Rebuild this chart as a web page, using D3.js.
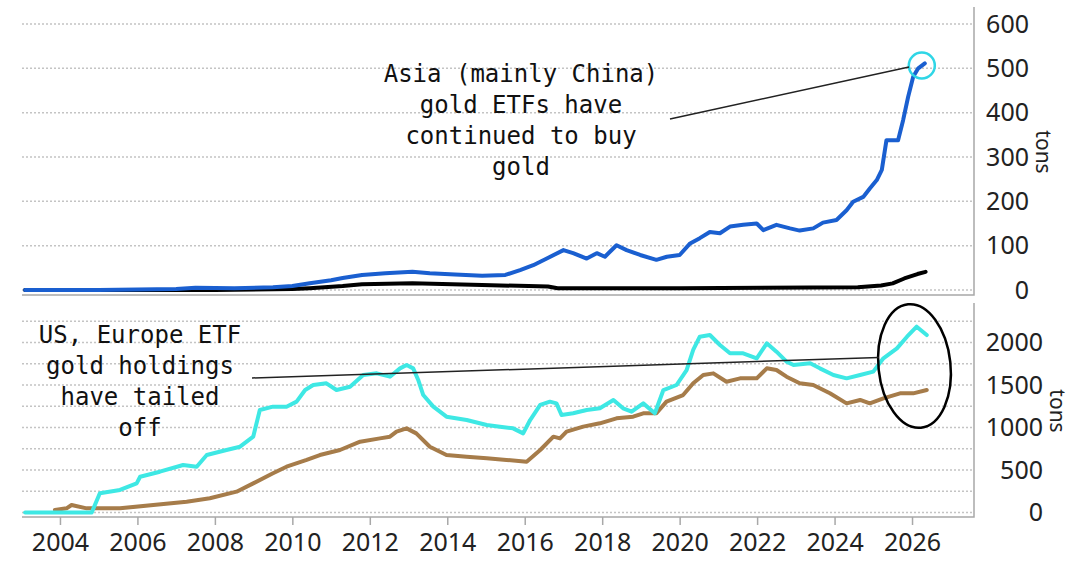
<!DOCTYPE html>
<html><head><meta charset="utf-8">
<script src="https://cdn.jsdelivr.net/npm/d3@7"></script>
<style>
html,body{margin:0;padding:0;background:#fff;}
svg{display:block;}
</style></head>
<body>
<svg id="chart" width="1073" height="563"></svg>
<script>
// ---- data (decimal years, tons) ----
const xTickYears = [2004, 2006, 2008, 2010, 2012, 2014, 2016, 2018, 2020, 2022, 2024, 2026];
const topTicks = [0, 100, 200, 300, 400, 500, 600];
const bottomTicks = [0, 500, 1000, 1500, 2000];
const bottomGrid = [0, 250, 500, 750, 1000, 1250, 1500, 1750, 2000, 2250];

const asiaYears = [2003.1, 2005.0, 2007.0, 2007.5, 2008.5, 2009.5, 2010.0, 2010.45, 2011.0, 2011.3, 2011.8, 2012.4, 2013.1, 2013.55, 2014.2, 2014.9, 2015.5, 2015.88, 2016.22, 2016.57, 2017.0, 2017.25, 2017.6, 2017.86, 2018.07, 2018.37, 2018.63, 2018.98, 2019.4, 2019.67, 2020.0, 2020.27, 2020.52, 2020.78, 2021.04, 2021.3, 2021.64, 2021.99, 2022.16, 2022.5, 2022.85, 2023.1, 2023.45, 2023.7, 2024.05, 2024.31, 2024.48, 2024.74, 2024.91, 2025.09, 2025.22, 2025.34, 2025.64, 2025.77, 2025.9, 2026.03, 2026.16, 2026.33];
const asiaValues = [0, 0, 2, 5, 4, 6, 9, 15, 22, 27, 34, 38, 41, 38, 35, 32, 34, 45, 56, 71, 90, 83, 71, 83, 75, 101, 90, 79, 68, 75, 79, 105, 117, 131, 128, 143, 147, 150, 135, 147, 139, 134, 139, 152, 158, 180, 199, 210, 229, 248, 271, 338, 338, 383, 436, 481, 500, 511];

const otherYears = [2003.1, 2008.0, 2010.0, 2010.45, 2011.3, 2011.8, 2013.1, 2014.9, 2016.1, 2016.6, 2016.85, 2020.0, 2024.6, 2025.2, 2025.5, 2025.8, 2026.14, 2026.35];
const otherValues = [0, 0, 2, 4, 9, 13, 15, 11, 9, 8, 4, 4, 6, 10, 15, 26, 36, 41];

const usYears = [2003.1, 2004.82, 2005.03, 2005.55, 2005.98, 2006.07, 2006.58, 2007.18, 2007.53, 2007.79, 2008.3, 2008.65, 2008.99, 2009.16, 2009.5, 2009.85, 2010.11, 2010.33, 2010.54, 2010.88, 2011.14, 2011.49, 2011.83, 2012.18, 2012.52, 2012.78, 2012.95, 2013.12, 2013.25, 2013.38, 2013.64, 2013.98, 2014.5, 2015.02, 2015.36, 2015.7, 2015.96, 2016.14, 2016.4, 2016.65, 2016.82, 2016.95, 2017.25, 2017.6, 2017.94, 2018.29, 2018.54, 2018.76, 2019.06, 2019.36, 2019.58, 2019.92, 2020.18, 2020.35, 2020.52, 2020.78, 2021.04, 2021.3, 2021.64, 2021.99, 2022.25, 2022.5, 2022.76, 2022.94, 2023.37, 2023.62, 2023.97, 2024.31, 2024.66, 2025.0, 2025.26, 2025.61, 2025.87, 2026.12, 2026.38];
const usValues = [0, 0, 226, 265, 343, 421, 480, 559, 539, 676, 735, 774, 892, 1206, 1245, 1245, 1304, 1441, 1500, 1520, 1441, 1480, 1618, 1637, 1598, 1696, 1735, 1696, 1559, 1382, 1245, 1127, 1088, 1029, 1010, 990, 931, 1088, 1265, 1304, 1284, 1147, 1167, 1206, 1226, 1324, 1226, 1186, 1284, 1167, 1441, 1500, 1676, 1912, 2068, 2088, 1971, 1873, 1873, 1814, 1990, 1892, 1775, 1735, 1755, 1696, 1618, 1578, 1618, 1657, 1814, 1931, 2068, 2186, 2088];

const euYears = [2003.87, 2004.17, 2004.3, 2004.69, 2005.55, 2006.41, 2007.27, 2007.87, 2008.56, 2008.99, 2009.5, 2009.85, 2010.37, 2010.71, 2011.23, 2011.75, 2012.26, 2012.52, 2012.69, 2012.95, 2013.2, 2013.55, 2013.98, 2014.5, 2015.02, 2015.53, 2016.05, 2016.4, 2016.74, 2016.91, 2017.08, 2017.51, 2017.94, 2018.37, 2018.8, 2019.06, 2019.4, 2019.66, 2020.09, 2020.35, 2020.61, 2020.87, 2021.21, 2021.56, 2021.99, 2022.25, 2022.5, 2022.76, 2023.1, 2023.45, 2023.88, 2024.31, 2024.66, 2024.91, 2025.26, 2025.69, 2026.03, 2026.38];
const euValues = [30, 49, 88, 49, 49, 88, 127, 167, 245, 343, 461, 539, 618, 676, 735, 833, 872, 892, 951, 990, 931, 774, 676, 657, 637, 618, 598, 735, 892, 872, 951, 1010, 1049, 1108, 1127, 1167, 1167, 1304, 1382, 1520, 1618, 1637, 1539, 1578, 1578, 1696, 1676, 1598, 1520, 1500, 1402, 1284, 1324, 1284, 1343, 1402, 1402, 1441];

const topNote = ["Asia (mainly China)", "gold ETFs have", "continued to buy", "gold"];
const bottomNote = ["US, Europe ETF", "gold holdings", "have tailed", "off"];

// ---- drawing ----
const svg = d3.select("#chart");
const left = 22, right = 974;
const x = d3.scaleLinear().domain([2003.02, 2027.6]).range([left, right]);
const yTop = d3.scaleLinear().domain([0, 600]).range([290, 24]);
const yBot = d3.scaleLinear().domain([0, 2000]).range([512.5, 342.5]);
const topPanel = {y0: 7, y1: 295};
const botPanel = {y0: 303, y1: 517};

const gridColor = "#c4c4c4", axisColor = "#a8a8a8";
const labelFont = "'Noto Sans', 'Open Sans', sans-serif";
const monoFont = "'DejaVu Sans Mono', 'Liberation Mono', monospace";

// gridlines
svg.append("g").selectAll("line").data(topTicks).join("line")
  .attr("x1", left).attr("x2", right)
  .attr("y1", d => yTop(d)).attr("y2", d => yTop(d))
  .attr("stroke", gridColor).attr("stroke-width", 1.5).attr("stroke-dasharray", "2,2");
svg.append("g").selectAll("line").data(bottomGrid).join("line")
  .attr("x1", left).attr("x2", right)
  .attr("y1", d => yBot(d)).attr("y2", d => yBot(d))
  .attr("stroke", gridColor).attr("stroke-width", 1.5).attr("stroke-dasharray", "2,2");

// panel borders (right + bottom)
function border(p) {
  svg.append("path")
    .attr("d", `M${left},${p.y1}H${right}V${p.y0}`)
    .attr("fill", "none").attr("stroke", axisColor).attr("stroke-width", 1.5);
}
border(topPanel); border(botPanel);

// right axes
const axTop = d3.axisRight(yTop).tickValues(topTicks).tickFormat(d3.format("d")).tickSize(0).tickPadding(0);
const gTop = svg.append("g").attr("transform", `translate(1029,0)`).call(axTop);
gTop.select(".domain").remove();
gTop.selectAll("text").attr("text-anchor", "end").attr("x", 0)
  .style("font-family", labelFont).style("font-size", "25px").attr("fill", "#222");

const axBot = d3.axisRight(yBot).tickValues(bottomTicks).tickFormat(d3.format("d")).tickSize(0).tickPadding(0);
const gBot = svg.append("g").attr("transform", `translate(1043,0)`).call(axBot);
gBot.select(".domain").remove();
gBot.selectAll("text").attr("text-anchor", "end").attr("x", 0)
  .style("font-family", labelFont).style("font-size", "25px").attr("fill", "#222");

// x axis
const axX = d3.axisBottom(x).tickValues(xTickYears).tickFormat(d3.format("d")).tickSize(8).tickPadding(8);
const gX = svg.append("g").attr("transform", `translate(0,${botPanel.y1})`).call(axX);
gX.select(".domain").remove();
gX.selectAll("line").attr("stroke", axisColor).attr("stroke-width", 1.5);
gX.selectAll("text").style("font-family", labelFont).style("font-size", "25px").attr("fill", "#222");

// axis titles
svg.append("text").attr("transform", "translate(1044,152) rotate(90)")
  .attr("text-anchor", "middle").attr("dominant-baseline", "central")
  .style("font-family", labelFont).style("font-size", "21px").attr("fill", "#222").text("tons");
svg.append("text").attr("transform", "translate(1058,411) rotate(90)")
  .attr("text-anchor", "middle").attr("dominant-baseline", "central")
  .style("font-family", labelFont).style("font-size", "21px").attr("fill", "#222").text("tons");

// lines
function drawLine(years, vals, y, color, w) {
  const data = years.map((d, i) => [d, vals[i]]);
  svg.append("path").datum(data)
    .attr("d", d3.line().x(d => x(d[0])).y(d => y(d[1])))
    .attr("fill", "none").attr("stroke", color).attr("stroke-width", w)
    .attr("stroke-linejoin", "round").attr("stroke-linecap", "round");
}
drawLine(otherYears, otherValues, yTop, "#000000", 4);
drawLine(asiaYears, asiaValues, yTop, "#1a5fd0", 4);
drawLine(euYears, euValues, yBot, "#a67c4a", 4);
drawLine(usYears, usValues, yBot, "#3ee8e4", 4);

// annotations
const lastAsia = asiaYears.length - 1;
svg.append("circle")
  .attr("cx", x(asiaYears[lastAsia]) - 3).attr("cy", yTop(asiaValues[lastAsia]) + 2).attr("r", 13)
  .attr("fill", "none").attr("stroke", "#2fd6e6").attr("stroke-width", 2.5);
svg.append("line").attr("x1", 670).attr("y1", 119).attr("x2", 909).attr("y2", 67)
  .attr("stroke", "#222").attr("stroke-width", 1.5);
svg.append("g").selectAll("text").data(topNote).join("text")
  .attr("x", 521).attr("y", (d, i) => 82 + i * 31).attr("text-anchor", "middle")
  .style("font-family", monoFont).style("font-size", "24px").attr("fill", "#111").text(d => d);

svg.append("ellipse").attr("cx", 914.5).attr("cy", 366).attr("rx", 36).attr("ry", 62)
  .attr("transform", "rotate(-6,914.5,366)")
  .attr("fill", "none").attr("stroke", "#000").attr("stroke-width", 2.5);
svg.append("line").attr("x1", 252).attr("y1", 378).attr("x2", 879).attr("y2", 357.5)
  .attr("stroke", "#222").attr("stroke-width", 1.5);
svg.append("g").selectAll("text").data(bottomNote).join("text")
  .attr("x", 140).attr("y", (d, i) => 343 + i * 31).attr("text-anchor", "middle")
  .style("font-family", monoFont).style("font-size", "24px").attr("fill", "#111").text(d => d);
</script>
</body></html>
